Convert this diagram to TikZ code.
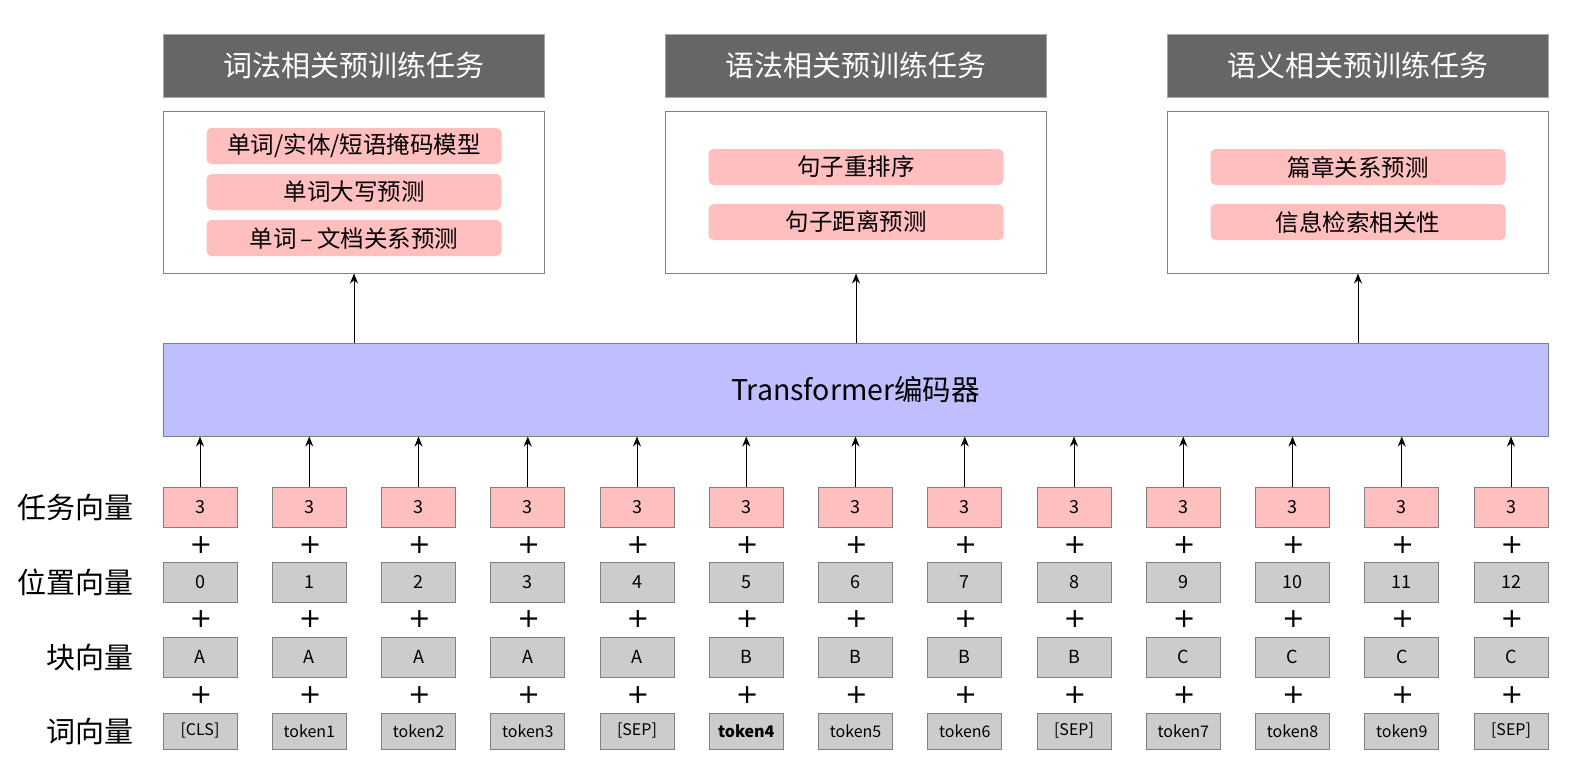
\documentclass[tikz,border=0pt]{standalone}
\usepackage{fontspec}
\setmainfont{Noto Sans CJK SC}
\newfontfamily\plusfont{DejaVu Sans}
\usetikzlibrary{arrows.meta}
\definecolor{hdr}{HTML}{666666}
\definecolor{pinkc}{HTML}{FFBFBF}
\definecolor{grayc}{HTML}{CCCCCC}
\definecolor{bordc}{HTML}{808080}
\definecolor{tfc}{HTML}{BFBFFF}
\begin{document}
\begin{tikzpicture}[x=1pt,y=-1pt,
  hdrbox/.style={draw=bordc!70,line width=1pt,fill=hdr,text=white,minimum width=381pt,minimum height=63pt,inner sep=0pt,font=\fontsize{29}{32}\selectfont},
  panel/.style={draw=bordc,line width=1pt,fill=white,minimum width=381pt,minimum height=162pt,inner sep=0pt},
  item/.style={fill=pinkc,rounded corners=5pt,minimum width=295pt,minimum height=36pt,inner sep=0pt,font=\fontsize{23.5}{26}\selectfont},
  taskbox/.style={draw=bordc,line width=1pt,fill=pinkc,minimum width=74pt,minimum height=40pt,inner sep=0pt,font=\fontsize{18}{20}\selectfont},
  vecbox/.style={draw=bordc,line width=1pt,fill=grayc,minimum width=74pt,minimum height=40pt,inner sep=0pt,font=\fontsize{18}{20}\selectfont},
  tokbox/.style={draw=bordc,line width=1pt,fill=grayc,minimum width=74pt,minimum height=36pt,inner sep=0pt,font=\fontsize{16}{18}\selectfont},
  plusn/.style={inner sep=0pt,font=\plusfont\fontsize{27}{28}\selectfont},
  rowlabel/.style={anchor=east,inner sep=0pt,font=\fontsize{29}{32}\selectfont},
  arr/.style={-{Stealth[length=10pt,width=8pt]},line width=1pt,black}
]
\useasboundingbox (0,0) rectangle (1572,769);
\fill[white] (0,0) rectangle (1572,769);

% headers
\node[hdrbox] (h1) at (354,65.5) {词法相关预训练任务};
\node[hdrbox] (h2) at (856,65.5) {语法相关预训练任务};
\node[hdrbox] (h3) at (1358,65.5) {语义相关预训练任务};

% panels
\node[panel] (p1) at (354,192) {};
\node[panel] (p2) at (856,192) {};
\node[panel] (p3) at (1358,192) {};

% items
\node[item] (i11) at (354,146) {单词/实体/短语掩码模型};
\node[item] (i12) at (354,192) {单词大写预测};
\node[item] (i13) at (354,238) {单词\,–\,文档关系预测};
\node[item] (i21) at (856,167) {句子重排序};
\node[item] (i22) at (856,222) {句子距离预测};
\node[item] (i31) at (1358,167) {篇章关系预测};
\node[item] (i32) at (1358,222) {信息检索相关性};

% transformer
\node[draw=bordc,line width=1pt,fill=tfc,minimum width=1385pt,minimum height=93pt,inner sep=0pt,font=\fontsize{28.5}{30}\selectfont] (tf) at (855.5,389.5) {Transformer编码器};

\draw[arr] (tf.north -| p1.south) -- (p1.south);
\draw[arr] (tf.north -| p2.south) -- (p2.south);
\draw[arr] (tf.north -| p3.south) -- (p3.south);

% row labels
\node[rowlabel] (l1) at (134,507) {任务向量};
\node[rowlabel] (l2) at (134,582) {位置向量};
\node[rowlabel] (l3) at (134,657) {块向量};
\node[rowlabel] (l4) at (134,731) {词向量};

% columns
\foreach \i/\pos/\blk/\tok in {0/0/A/[CLS],1/1/A/token1,2/2/A/token2,3/3/A/token3,4/4/A/[SEP],5/5/B/\textbf{token4},6/6/B/token5,7/7/B/token6,8/8/B/[SEP],9/9/C/token7,10/10/C/token8,11/11/C/token9,12/12/C/[SEP]}{
  \pgfmathsetmacro{\cx}{200+109.25*\i}
  \node[taskbox] (t\i) at (\cx,507) {3};
  \node[vecbox] (v\i) at (\cx,582) {\pos};
  \node[vecbox] (b\i) at (\cx,657) {\blk};
  \node[tokbox] (w\i) at (\cx,731) {\tok};
  \node[plusn] (pa\i) at (\cx+1,545) {+};
  \node[plusn] (pb\i) at (\cx+1,619) {+};
  \node[plusn] (pc\i) at (\cx+1,695) {+};
  \draw[arr] (t\i.north) -- (t\i.north |- tf.south);
}
\end{tikzpicture}
\end{document}
